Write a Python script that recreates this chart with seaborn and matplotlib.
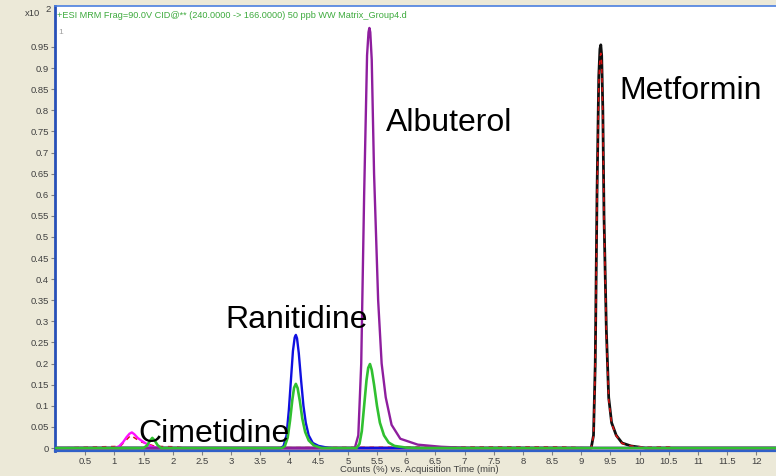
import matplotlib
matplotlib.use("Agg")
import matplotlib.pyplot as plt
import seaborn as sns

sns.set_style("white")
plt.rcParams["font.family"] = ["Liberation Sans", "DejaVu Sans"]

# Chromatogram traces: acquisition time (min) and counts (x10^2)
cimetidine_t = [0.0, 1.00, 1.08, 1.15, 1.21, 1.26, 1.30, 1.34, 1.40, 1.47, 1.55, 1.65, 1.75, 12.4]
cimetidine_y = [0.0, 0.0, 0.004, 0.014, 0.026, 0.034, 0.037, 0.033, 0.024, 0.017, 0.010, 0.003, 0.0, 0.0]

ranitidine_t = [0.0, 3.85, 3.90, 3.95, 3.99, 4.03, 4.06, 4.09, 4.11, 4.13, 4.16, 4.20, 4.24,
                4.28, 4.33, 4.40, 4.50, 4.65, 4.75, 12.4]
ranitidine_y = [0.0, 0.0, 0.005, 0.030, 0.090, 0.170, 0.230, 0.262, 0.268, 0.260, 0.225, 0.160,
                0.100, 0.060, 0.030, 0.012, 0.005, 0.001, 0.0, 0.0]

albuterol_t = [0.0, 5.12, 5.18, 5.23, 5.28, 5.33, 5.355, 5.37, 5.385, 5.41, 5.45, 5.52, 5.58,
               5.65, 5.75, 5.90, 6.20, 6.60, 7.10, 12.4]
albuterol_y = [0.0, 0.0, 0.030, 0.200, 0.600, 0.930, 0.985, 0.995, 0.985, 0.920, 0.650, 0.350,
               0.200, 0.120, 0.055, 0.022, 0.008, 0.003, 0.0, 0.0]

metformin_t = [0.0, 9.17, 9.21, 9.24, 9.27, 9.30, 9.32, 9.335, 9.35, 9.37, 9.39, 9.43, 9.47,
               9.52, 9.60, 9.70, 9.85, 10.10, 12.4]
metformin_y = [0.0, 0.0, 0.030, 0.200, 0.600, 0.880, 0.945, 0.955, 0.930, 0.800, 0.550, 0.280,
               0.120, 0.060, 0.030, 0.012, 0.005, 0.0, 0.0]

reference_t = [0.0, 0.80, 1.10, 1.28, 1.45, 1.70, 2.05, 2.20, 8.10, 8.65, 9.17, 9.21, 9.24,
               9.27, 9.30, 9.32, 9.335, 9.35, 9.37, 9.39, 9.43, 9.47, 9.52, 9.60, 9.70, 9.85,
               10.10, 10.50, 10.60, 12.4]
reference_y = [0.0, 0.003, 0.004, 0.030, 0.015, 0.004, 0.003, 0.0, 0.003, 0.003, 0.0, 0.028,
               0.190, 0.580, 0.860, 0.925, 0.935, 0.910, 0.785, 0.540, 0.270, 0.115, 0.058,
               0.029, 0.011, 0.005, 0.002, 0.003, 0.0, 0.0]

qualifier_t = [0.0, 1.50, 1.56, 1.61, 1.65, 1.69, 1.74, 1.80, 3.87, 3.92, 3.97, 4.01, 4.05,
               4.08, 4.11, 4.14, 4.18, 4.22, 4.27, 4.33, 4.42, 4.55, 5.15, 5.20, 5.24, 5.28,
               5.32, 5.35, 5.38, 5.41, 5.45, 5.50, 5.55, 5.62, 5.70, 5.80, 6.00, 6.20, 12.4]
qualifier_y = [0.0, 0.0, 0.006, 0.017, 0.024, 0.018, 0.007, 0.0, 0.0, 0.004, 0.025, 0.065,
               0.115, 0.143, 0.152, 0.142, 0.110, 0.070, 0.038, 0.018, 0.006, 0.0, 0.0, 0.010,
               0.040, 0.100, 0.160, 0.190, 0.199, 0.185, 0.150, 0.100, 0.060, 0.030, 0.013,
               0.005, 0.001, 0.0, 0.0]

compound_names = ["Cimetidine", "Ranitidine", "Albuterol", "Metformin"]
label_x = [1.42, 2.91, 5.66, 9.65]
label_y = [0.014, 0.284, 0.751, 0.827]

title_text = "+ESI MRM Frag=90.0V CID@** (240.0000 -> 166.0000) 50 ppb WW Matrix_Group4.d"
x_ticks = [0.5, 1, 1.5, 2, 2.5, 3, 3.5, 4, 4.5, 5, 5.5, 6, 6.5, 7, 7.5, 8, 8.5, 9, 9.5,
           10, 10.5, 11, 11.5, 12]
y_ticks = [0, 0.05, 0.1, 0.15, 0.2, 0.25, 0.3, 0.35, 0.4, 0.45, 0.5, 0.55, 0.6, 0.65,
           0.7, 0.75, 0.8, 0.85, 0.9, 0.95]

bg = "#ECE9D8"
small = 6.8
fig = plt.figure(figsize=(7.76, 4.76), dpi=100, facecolor=bg)
ax = fig.add_axes([55 / 776, 25 / 476, 1 - 55 / 776 + 0.01, 445 / 476])
ax.set_facecolor("white")

traces = [
    (metformin_t, metformin_y, "#101010", "-", 2.0, 1),
    (reference_t, reference_y, "#D81010", (0, (3, 3)), 1.1, 2),
    (cimetidine_t, cimetidine_y, "#FF10FF", "-", 1.7, 3),
    (ranitidine_t, ranitidine_y, "#1010E0", "-", 1.7, 4),
    (albuterol_t, albuterol_y, "#8E1E9E", "-", 1.7, 5),
    (qualifier_t, qualifier_y, "#30C030", "-", 1.9, 6),
]
for t, y, c, ls, lw, z in traces:
    sns.lineplot(x=t, y=y, color=c, linestyle=ls, linewidth=lw, sort=False,
                 estimator=None, ax=ax, zorder=z)

ax.set_xlim(-0.017, 12.47)
ax.set_ylim(-0.007, 1.047)

ax.set_xticks(x_ticks)
ax.set_xticklabels([f"{v:g}" for v in x_ticks])
ax.set_yticks(y_ticks)
ax.set_yticklabels([f"{v:g}" for v in y_ticks])
ax.tick_params(axis="both", direction="out", length=3, width=0.8, color="#808080",
               labelsize=small, labelcolor="#404040", pad=1.5)
ax.tick_params(axis="x", bottom=True)
ax.tick_params(axis="y", left=True)

ax.spines["right"].set_visible(False)
ax.spines["left"].set_color("#2850B8")
ax.spines["left"].set_linewidth(2.0)
ax.spines["top"].set_color("#4A7FE0")
ax.spines["top"].set_linewidth(1.2)
ax.spines["bottom"].set_color("#3060C8")
ax.spines["bottom"].set_linewidth(1.6)
ax.axhline(-0.0045, color="#8FB0F0", linewidth=0.9, zorder=0.5)

ax.set_xlabel("Counts (%) vs. Acquisition Time (min)", fontsize=small, color="#404040",
              labelpad=-1)
ax.set_ylabel("")

for name, lx, ly in zip(compound_names, label_x, label_y):
    ax.text(lx, ly, name, fontsize=23, color="black", ha="left", va="baseline", zorder=10)

fig.text(57 / 776, 1 - 15 / 476, title_text, fontsize=6.55, color="#3DAA3D",
         ha="left", va="center")
fig.text(58 / 776, 1 - 32 / 476, "1", fontsize=6, color="#A0A0A0", ha="left", va="center")
fig.text(25 / 776, 1 - 14 / 476, "x10", fontsize=small, color="#404040", ha="left", va="center")
fig.text(45 / 776, 1 - 10 / 476, "2", fontsize=small, color="#404040", ha="left", va="center")

fig.savefig("out.png", dpi=100, facecolor=bg)
